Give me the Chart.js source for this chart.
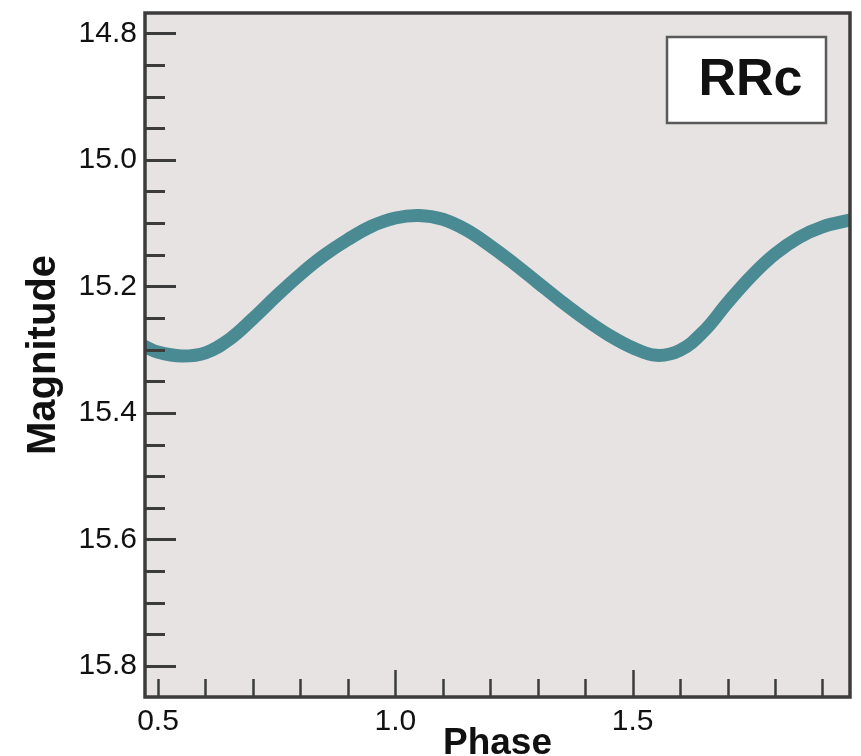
<!DOCTYPE html>
<html>
<head>
<meta charset="utf-8">
<script src="https://cdn.jsdelivr.net/npm/chart.js@4.4.1/dist/chart.umd.min.js"></script>
<style>
  html, body { margin: 0; padding: 0; background: #ffffff; overflow: hidden; }
  #wrap { width: 861px; height: 756px; }
</style>
</head>
<body>
<div id="wrap"><canvas id="lightCurve"></canvas></div>
<script>
// light curve
const phase = [0.47, 0.50, 0.55, 0.60, 0.65, 0.70, 0.75, 0.80, 0.85, 0.90, 0.95, 1.00,
               1.05, 1.10, 1.15, 1.20, 1.25, 1.30, 1.35, 1.40, 1.45, 1.50, 1.55, 1.60,
               1.65, 1.70, 1.75, 1.80, 1.85, 1.90, 1.96];
const magnitude = [15.294, 15.304, 15.310, 15.305, 15.284, 15.251, 15.215, 15.181, 15.151, 15.126, 15.105, 15.092,
                   15.088, 15.094, 15.111, 15.136, 15.164, 15.194, 15.224, 15.252, 15.277, 15.297, 15.309, 15.301,
                   15.271, 15.226, 15.184, 15.149, 15.123, 15.106, 15.095];
const xLabels = [0.5, 1.0, 1.5];
const yLabels = [14.8, 15.0, 15.2, 15.4, 15.6, 15.8];
const typeLabel = 'RRc';

const plotBg = '#e8e3e3';
const frameColor = '#3c3c3c';
const lineColor = '#4a8a92';
const tickFont = { family: 'Liberation Sans, Arial, sans-serif', size: 30 };

var points = [];
for (var i = 0; i < phase.length; i++) {
    points.push({ x: phase[i], y: magnitude[i] });
}

function isLabel(list, v) {
    for (var i = 0; i < list.length; i++) {
        if (Math.abs(list[i] - v) < 1e-6) return true;
    }
    return false;
}

const framePlugin = {
    id: 'frame',
    beforeDatasetsDraw(chart) {
        const a = chart.chartArea;
        const ctx = chart.ctx;
        ctx.save();
        ctx.fillStyle = plotBg;
        ctx.fillRect(a.left, a.top, a.right - a.left, a.bottom - a.top);
        ctx.restore();
    },
    afterDatasetsDraw(chart) {
        const a = chart.chartArea;
        const ctx = chart.ctx;
        const xs = chart.scales.x;
        const ys = chart.scales.y;
        ctx.save();
        ctx.strokeStyle = frameColor;
        ctx.lineWidth = 3;
        // inward ticks on the left axis
        ys.ticks.forEach(function (t) {
            const py = Math.round(ys.getPixelForValue(t.value)) + 0.5;
            const len = isLabel(yLabels, t.value) ? 31 : 20;
            ctx.beginPath();
            ctx.moveTo(a.left, py);
            ctx.lineTo(a.left + len, py);
            ctx.stroke();
        });
        // inward ticks on the bottom axis
        ctx.lineWidth = 2.5;
        xs.ticks.forEach(function (t) {
            const px = Math.round(xs.getPixelForValue(t.value)) + 0.5;
            const len = isLabel(xLabels, t.value) && t.value > 0.75 ? 27 : 18;
            ctx.beginPath();
            ctx.moveTo(px, a.bottom);
            ctx.lineTo(px, a.bottom - len);
            ctx.stroke();
        });
        ctx.lineWidth = 3.5;
        ctx.strokeRect(a.left, a.top, a.right - a.left, a.bottom - a.top);
        ctx.restore();
    },
    afterDraw(chart) {
        const a = chart.chartArea;
        const ctx = chart.ctx;
        const bw = 159, bh = 86;
        const bx = a.right - 24 - bw;
        const by = a.top + 24;
        ctx.save();
        ctx.fillStyle = '#ffffff';
        ctx.fillRect(bx, by, bw, bh);
        ctx.strokeStyle = '#5a5a5a';
        ctx.lineWidth = 2.5;
        ctx.strokeRect(bx, by, bw, bh);
        ctx.fillStyle = '#111111';
        ctx.font = 'bold 52px Liberation Sans, Arial, sans-serif';
        ctx.textAlign = 'center';
        ctx.textBaseline = 'middle';
        ctx.fillText(typeLabel, bx + bw / 2 + 4, by + bh / 2 + 1);
        ctx.restore();
    }
};

var ctx = document.getElementById('lightCurve').getContext('2d');
var curveChart = new Chart(ctx, {
    type: 'line',
    data: {
        datasets: [{
            label: 'RRc',
            data: points,
            borderColor: lineColor,
            borderWidth: 13,
            borderCapStyle: 'round',
            borderJoinStyle: 'round',
            pointRadius: 0,
            tension: 0.4,
            fill: false
        }]
    },
    options: {
        responsive: true,
        maintainAspectRatio: false,
        animation: false,
        layout: { padding: { top: 13, right: 11, left: 0, bottom: 0 } },
        plugins: {
            legend: { display: false },
            tooltip: { enabled: false }
        },
        scales: {
            x: {
                type: 'linear',
                min: 0.4726,
                max: 1.958,
                grid: { display: false, drawTicks: false },
                border: { display: false },
                ticks: {
                    stepSize: 0.1,
                    includeBounds: false,
                    autoSkip: false,
                    maxRotation: 0,
                    padding: 7,
                    color: '#111111',
                    font: tickFont,
                    callback: function (v) {
                        return isLabel(xLabels, v) ? v.toFixed(1) : '';
                    }
                },
                title: {
                    display: true,
                    text: 'Phase',
                    color: '#111111',
                    font: { family: 'Liberation Sans, Arial, sans-serif', size: 37, weight: 'bold', lineHeight: 1 },
                    padding: { top: 0, bottom: -6 }
                },
                afterFit: function (scale) {
                    scale.height = 59;
                    scale.paddingLeft = 0;
                    scale.paddingRight = 0;
                }
            },
            y: {
                type: 'linear',
                reverse: true,
                min: 14.768,
                max: 15.849,
                grid: { display: false, drawTicks: false },
                border: { display: false },
                ticks: {
                    stepSize: 0.05,
                    includeBounds: false,
                    autoSkip: false,
                    padding: 8,
                    color: '#111111',
                    font: tickFont,
                    callback: function (v) {
                        return isLabel(yLabels, v) ? v.toFixed(1) : '';
                    }
                },
                title: {
                    display: true,
                    text: 'Magnitude',
                    color: '#111111',
                    font: { family: 'Liberation Sans, Arial, sans-serif', size: 40, weight: 'bold', lineHeight: 1.2 },
                    padding: { top: 20, bottom: 0 }
                },
                afterFit: function (scale) {
                    scale.width = 145;
                    scale.paddingTop = 0;
                    scale.paddingBottom = 0;
                }
            }
        }
    },
    plugins: [framePlugin]
});
</script>
</body>
</html>
